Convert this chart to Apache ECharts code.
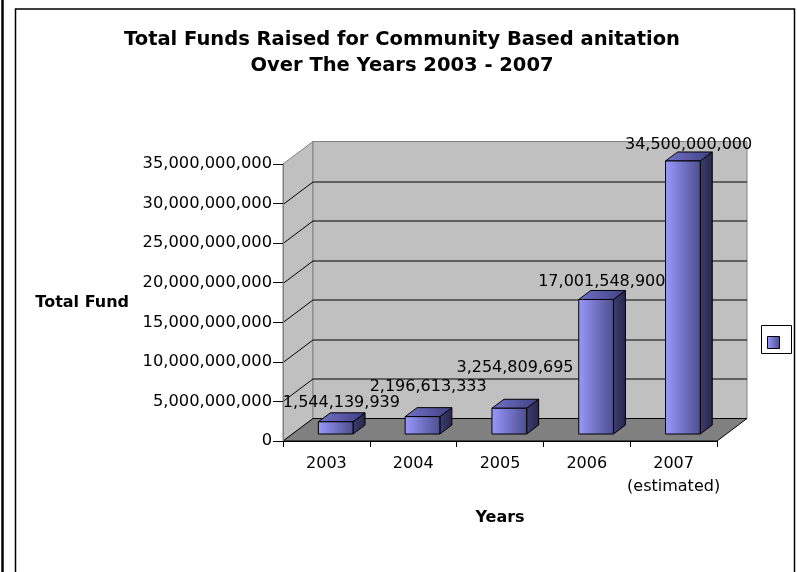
<!DOCTYPE html>
<html lang="en">
<head>
<meta charset="UTF-8">
<title>Total Funds Raised</title>
<script src="https://cdn.jsdelivr.net/npm/echarts@6/dist/echarts.min.js"></script>
<style>
    html, body { margin: 0; padding: 0; background: #fff; }
    #echart { width: 797px; height: 572px; }
</style>
</head>
<body>
<div id="echart"></div>
<script>
    const years = ['2003', '2004', '2005', '2006', '2007\n(estimated)'];
    const funds = [1544139939, 2196613333, 3254809695, 17001548900, 34500000000];
    const yTicks = [0, 5e9, 10e9, 15e9, 20e9, 25e9, 30e9, 35e9];
    // excel staggers the value labels, px above the bar top
    const labelLift = [15, 26, 36, 13, 12];

    const depth = [30, -22.5];   // 3d depth offset of the back wall
    const font = 'DejaVu Sans';

    function fmt(v) {
        return Math.round(v).toLocaleString('en-US');
    }

    function renderWalls(params, api) {
        const cs = params.coordSys;
        const x0 = cs.x, x1 = cs.x + cs.width;
        const yT = cs.y, yB = cs.y + cs.height;
        const dx = depth[0], dy = depth[1];
        const children = [
            {   // side wall
                type: 'polygon',
                shape: { points: [[x0, yB], [x0, yT], [x0 + dx, yT + dy], [x0 + dx, yB + dy]] },
                style: { fill: '#c0c0c0', stroke: '#808080', lineWidth: 1 }
            },
            {   // back wall
                type: 'polygon',
                shape: { points: [[x0 + dx, yT + dy], [x1 + dx, yT + dy], [x1 + dx, yB + dy], [x0 + dx, yB + dy]] },
                style: { fill: '#c0c0c0', stroke: '#808080', lineWidth: 1 }
            },
            {   // floor
                type: 'polygon',
                shape: { points: [[x0, yB], [x0 + dx, yB + dy], [x1 + dx, yB + dy], [x1, yB]] },
                style: { fill: '#808080', stroke: '#000', lineWidth: 1 }
            }
        ];
        for (let i = 1; i < yTicks.length - 1; i++) {
            const y = Math.round(api.coord([0, yTicks[i]])[1]) + 0.5;
            children.push({
                type: 'polyline',
                shape: { points: [[x0, y], [x0 + dx, y + dy], [x1 + dx, y + dy]] },
                style: { stroke: '#000', lineWidth: 1, fill: null }
            });
        }
        return { type: 'group', children: children };
    }

    function renderBar(params, api) {
        const idx = api.value(0);
        const base = api.coord([idx, 0]);
        const top = api.coord([idx, api.value(1)]);
        const bw = api.size([1, 0])[0] * 0.4;
        const f = 0.31, b = 0.71;   // front / back depth of the bar
        const xl = base[0] - bw / 2, xr = base[0] + bw / 2;
        const p = (x, y, d) => [x + d * depth[0], y + d * depth[1]];

        const fl = p(xl, top[1], f), fr = p(xr, base[1], f);
        const lift = labelLift[params.dataIndex];
        const lp = p(base[0], top[1], 0.5);

        return {
            type: 'group',
            children: [
                {
                    type: 'polygon',
                    shape: { points: [p(xr, base[1], f), p(xr, top[1], f), p(xr, top[1], b), p(xr, base[1], b)] },
                    style: {
                        fill: new echarts.graphic.LinearGradient(0, 0, 1, 0, [
                            { offset: 0, color: '#3e3e72' }, { offset: 1, color: '#25254a' }
                        ]),
                        stroke: '#000', lineWidth: 1
                    }
                },
                {
                    type: 'polygon',
                    shape: { points: [p(xl, top[1], f), p(xr, top[1], f), p(xr, top[1], b), p(xl, top[1], b)] },
                    style: {
                        fill: new echarts.graphic.LinearGradient(0, 0, 1, 0, [
                            { offset: 0, color: '#7272c8' }, { offset: 1, color: '#3f3f82' }
                        ]),
                        stroke: '#000', lineWidth: 1
                    }
                },
                {
                    type: 'rect',
                    shape: { x: fl[0], y: fl[1], width: fr[0] - fl[0], height: fr[1] - fl[1] },
                    style: {
                        fill: new echarts.graphic.LinearGradient(0, 0, 1, 0, [
                            { offset: 0, color: '#9999ff' }, { offset: 1, color: '#4d4d8c' }
                        ]),
                        stroke: '#000', lineWidth: 1
                    }
                },
                {
                    type: 'text',
                    x: lp[0],
                    y: lp[1] - lift,
                    style: {
                        text: fmt(api.value(1)),
                        align: 'center',
                        verticalAlign: 'middle',
                        fill: '#000',
                        font: '16px "DejaVu Sans"'
                    }
                }
            ]
        };
    }

    const chart = echarts.init(document.getElementById('echart'));

    chart.setOption({
        animation: false,
        backgroundColor: '#fff',
        title: {
            text: 'Total Funds Raised for Community Based anitation\nOver The Years 2003 - 2007',
            left: 397,
            top: 22,
            textAlign: 'center',
            textStyle: {
                fontFamily: font,
                fontWeight: 'bold',
                fontSize: 19.5,
                lineHeight: 26,
                color: '#000'
            }
        },
        grid: {
            left: 283,
            top: 164,
            width: 434,
            height: 277
        },
        xAxis: {
            type: 'category',
            data: years,
            z: 10,
            name: 'Years',
            nameLocation: 'middle',
            nameGap: 69,
            nameTextStyle: { fontFamily: font, fontWeight: 'bold', fontSize: 16, color: '#000', verticalAlign: 'top' },
            axisLine: { lineStyle: { color: '#000', width: 1 } },
            axisTick: { show: true, length: 6, lineStyle: { color: '#000' } },
            axisLabel: { interval: 0, fontFamily: font, fontSize: 16, color: '#000', margin: 11, lineHeight: 23 }
        },
        yAxis: {
            type: 'value',
            min: 0,
            max: 35e9,
            interval: 5e9,
            z: 10,
            name: 'Total Fund',
            nameLocation: 'middle',
            nameRotate: 0,
            nameGap: 154,
            nameTextStyle: { fontFamily: font, fontWeight: 'bold', fontSize: 16, color: '#000', align: 'right' },
            axisLine: { show: true, lineStyle: { color: '#808080', width: 1 } },
            axisTick: { show: true, length: 10, lineStyle: { color: '#000' } },
            splitLine: { show: false },
            axisLabel: {
                fontFamily: font, fontSize: 16.3, color: '#000', margin: 11,
                formatter: fmt
            }
        },
        graphic: [
            { type: 'line', shape: { x1: 2.5, y1: 0, x2: 2.5, y2: 572 }, style: { stroke: '#000', lineWidth: 2.5 } },
            { type: 'rect', shape: { x: 15.5, y: 9, width: 779, height: 600 }, style: { fill: null, stroke: '#000', lineWidth: 1.5 } },
            { type: 'rect', shape: { x: 761.5, y: 325.5, width: 30, height: 28 }, style: { fill: '#fff', stroke: '#000', lineWidth: 1 } },
            {
                type: 'rect', shape: { x: 767.5, y: 336.5, width: 12, height: 12 },
                style: {
                    fill: new echarts.graphic.LinearGradient(0, 0, 1, 0, [
                        { offset: 0, color: '#9999ff' }, { offset: 1, color: '#4d4d8c' }
                    ]),
                    stroke: '#000', lineWidth: 1
                }
            }
        ],
        series: [
            {
                type: 'custom',
                name: 'walls',
                z: 1,
                silent: true,
                clip: false,
                data: [[0, 0]],
                renderItem: renderWalls
            },
            {
                type: 'custom',
                name: 'Total Fund',
                z: 3,
                clip: false,
                data: years.map((y, i) => [i, funds[i]]),
                encode: { x: 0, y: 1 },
                renderItem: renderBar
            }
        ]
    });
</script>
</body>
</html>
